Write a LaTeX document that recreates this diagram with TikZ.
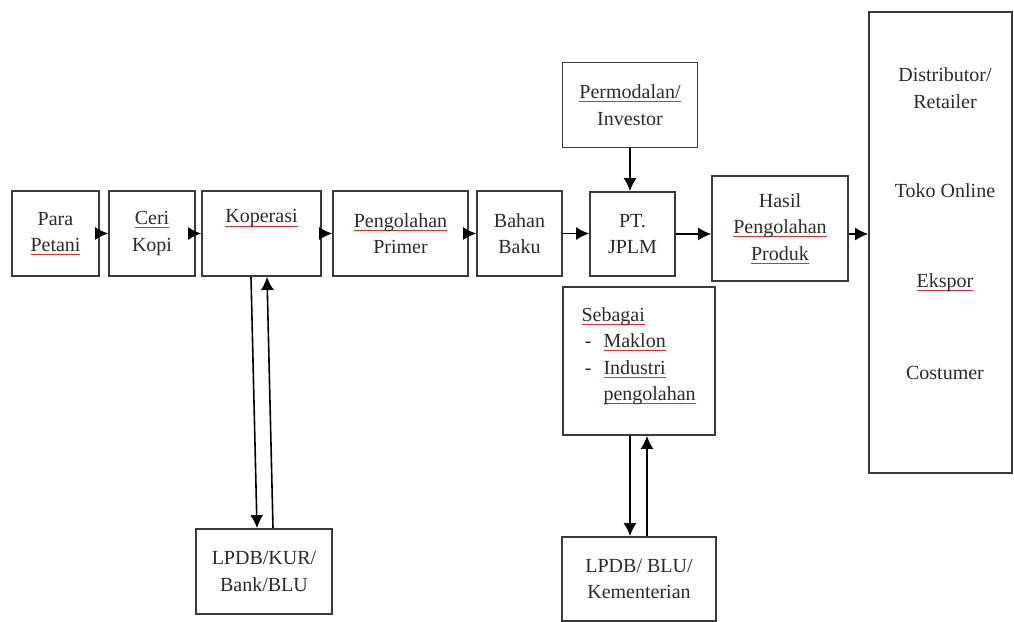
\documentclass[tikz,border=0pt]{standalone}
\usepackage{fontspec}
\setmainfont{Liberation Serif}
\usetikzlibrary{arrows.meta,positioning}
\definecolor{ink}{HTML}{2B2B2B}
\definecolor{frame}{HTML}{3A3A3A}
\definecolor{typored}{HTML}{D9303A}

% red spell-check mark under a word
\newsavebox\typobox
\newcommand{\typo}[1]{\sbox\typobox{#1}%
  \rlap{\color{typored}\rule[-3.5pt]{\wd\typobox}{0.9pt}}\usebox\typobox}

\begin{document}
\begin{tikzpicture}[
  x=1pt,y=-1pt,
  font=\fontsize{20}{26.5}\selectfont,
  >={Latex[length=13pt,width=13pt]},
  box/.style={draw=frame,line width=1.8pt,inner sep=0pt,text=ink,align=center},
  flow/.style={->,line width=1.6pt,draw=black},
  item/.style={text=ink,align=center}
]
  \useasboundingbox[fill=white] (0,0) rectangle (1014,621);

  % main chain
  \node[box,minimum width=87pt,minimum height=85pt] (petani) at (55.5,233.5)
    {Para\\\typo{Petani}};
  \node[box,minimum width=86pt,minimum height=85pt] (ceri) at (152,233.5)
    {\typo{Ceri}\\Kopi};
  \node[box,minimum width=119pt,minimum height=85pt] (kop) at (261.5,233.5)
    {\typo{Koperasi}\\\strut};
  \node[box,minimum width=135pt,minimum height=85pt] (primer) at (400.5,233.5)
    {\typo{Pengolahan}\\Primer};
  \node[box,minimum width=85pt,minimum height=85pt] (bahan) at (519.5,233.5)
    {Bahan\\Baku};
  \node[box,minimum width=85pt,minimum height=84pt] (pt) at (632.5,234)
    {PT.\\JPLM};
  \node[box,minimum width=136pt,minimum height=105pt] (hasil) at (780,228.5)
    {Hasil\\\typo{Pengolahan}\\\typo{Produk}};

  % funding
  \node[box,minimum width=135pt,minimum height=85pt] (modal) at (630,105)
    {\typo{Permodalan/}\\Investor};
  \node[box,minimum width=152pt,minimum height=148pt] (sebagai) at (639,361) {};
  \node[item,anchor=north west,align=left] (peran) at (578,299)
    {\begin{tabular}{@{}l@{\hspace{12pt}}l@{}}
      \multicolumn{2}{@{}l}{\typo{Sebagai}}\\
      \,- & \typo{Maklon}\\
      \,- & \typo{Industri}\\
         & \typo{pengolahan}
     \end{tabular}};
  \node[box,minimum width=136pt,minimum height=85pt] (lpdb) at (264,571.5)
    {LPDB/KUR/\\Bank/BLU};
  \node[box,minimum width=154pt,minimum height=84pt] (kemen) at (639,579)
    {LPDB/ BLU/\\Kementerian};

  % market
  \node[box,minimum width=143pt,minimum height=461pt] (pasar) at (940.5,242.5) {};
  \node[item] (dist) at (945,88) {Distributor/\\Retailer};
  \node[item] (toko) at (945,191) {Toko Online};
  \node[item] (eks) at (945,283) {\typo{Ekspor}};
  \node[item] (cost) at (945,373) {Costumer};

  \draw[flow] (petani) -- (ceri);
  \draw[flow] (ceri) -- (kop);
  \draw[flow] (kop) -- (primer);
  \draw[flow] (primer) -- (bahan);
  \draw[flow] (bahan.east) -- (bahan.east -| pt.west);
  \draw[flow] (modal.south) -- (modal.south |- pt.north);
  \draw[flow] (pt.east) -- (pt.east -| hasil.west);
  \draw[flow] (hasil.east |- pt.east) -- (pasar.west |- pt.east);

  \draw[flow] ([xshift=-10.5pt]kop.south) -- ([xshift=-7pt]lpdb.north);
  \draw[flow] ([xshift=9pt]lpdb.north) -- ([xshift=5.5pt]kop.south);
  \draw[flow] ([xshift=-9pt]sebagai.south) -- ([xshift=-9pt]kemen.north);
  \draw[flow] ([xshift=8pt]kemen.north) -- ([xshift=8pt]sebagai.south);
\end{tikzpicture}
\end{document}
